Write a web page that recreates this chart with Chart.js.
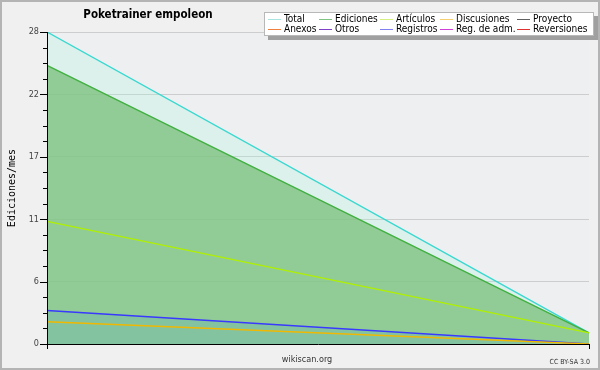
<!DOCTYPE html>
<html><head><meta charset="utf-8">
<script src="https://cdn.jsdelivr.net/npm/chart.js@4/dist/chart.umd.min.js"></script>
<style>html,body{margin:0;padding:0;background:#f0f0f0;}#wrap{width:600px;height:370px;}</style>
</head><body><div id="wrap"><canvas id="c" width="600" height="370"></canvas></div>
<script>
const periods = ['mes 1', 'mes 2'];
const total = [28, 1];
const ediciones = [25, 1];
const articulos = [11, 1];
const registros = [3, 0];
const discusiones = [2, 0];
const yMax = 28;
const majorStep = 5.6;
const minorStep = 1.4;
const legendNames = ['Total','Ediciones','Artículos','Discusiones','Proyecto','Anexos','Otros','Registros','Reg. de adm.','Reversiones'];
const legendColors = ['#a8e4e0','#80c484','#d4f080','#f4d070','#606060','#f08040','#8040c8','#8080f0','#d040d8','#e03030'];
const chartTitle = 'Poketrainer empoleon';
const yTitle = 'Ediciones/mes';

const FONT = "'DejaVu Sans Condensed','DejaVu Sans',sans-serif";

const deco = {
  id: 'deco',
  beforeDraw(chart) {
    const ctx = chart.ctx, a = chart.chartArea;
    ctx.save();
    ctx.fillStyle = '#f0f0f0';
    ctx.fillRect(0, 0, 600, 370);
    ctx.strokeStyle = '#b4b4b4';
    ctx.lineWidth = 2;
    ctx.strokeRect(1, 1, 598, 368);
    ctx.fillStyle = '#eeeff1';
    ctx.fillRect(a.left, a.top, a.right - a.left, a.bottom - a.top);
    ctx.restore();
  },
  afterDraw(chart) {
    const ctx = chart.ctx, a = chart.chartArea;
    const ys = chart.scales.y, xs = chart.scales.x;
    ctx.save();
    ctx.strokeStyle = '#000';
    ctx.lineWidth = 1;
    ctx.beginPath();
    ctx.moveTo(a.left + 0.5, a.top); ctx.lineTo(a.left + 0.5, a.bottom + 0.5);
    ctx.moveTo(a.left, a.bottom + 0.5); ctx.lineTo(a.right + 1, a.bottom + 0.5);
    ys.ticks.forEach(t => {
      const y = Math.round(ys.getPixelForValue(t.value)) + 0.5;
      const major = Math.abs(t.value / majorStep - Math.round(t.value / majorStep)) < 1e-6;
      ctx.moveTo(a.left - (major ? 7 : 4), y); ctx.lineTo(a.left, y);
    });
    periods.forEach((p, i) => {
      const x = Math.round(xs.getPixelForValue(i)) + 0.5;
      ctx.moveTo(x, a.bottom); ctx.lineTo(x, a.bottom + 5);
    });
    ctx.stroke();
    ctx.fillStyle = '#000';
    ctx.font = "bold 11.5px " + FONT;
    ctx.textAlign = 'center'; ctx.textBaseline = 'middle';
    ctx.fillText(chartTitle, 148, 15);
    ctx.font = "9px " + FONT;
    ctx.fillStyle = '#333';
    ctx.fillText('wikiscan.org', 307, 360);
    ctx.font = "7px " + FONT;
    ctx.textAlign = 'right';
    ctx.fillText('CC BY-SA 3.0', 590, 362);
    ctx.fillStyle = '#a0a0a0';
    ctx.fillRect(268, 16, 330, 24);
    ctx.fillStyle = '#ffffff';
    ctx.fillRect(264, 12, 330, 24);
    ctx.strokeStyle = '#b8b8b8';
    ctx.strokeRect(264.5, 12.5, 329, 23);
    const swX = [268, 319, 380, 440, 517];
    const rowY = [19, 29];
    ctx.font = "10px " + FONT;
    ctx.textAlign = 'left';
    legendNames.forEach((n, i) => {
      const col = i % 5, row = Math.floor(i / 5);
      const y = rowY[row];
      ctx.strokeStyle = legendColors[i];
      ctx.lineWidth = 1;
      ctx.beginPath();
      ctx.moveTo(swX[col], y + 0.5); ctx.lineTo(swX[col] + 13, y + 0.5);
      ctx.stroke();
      ctx.fillStyle = '#000';
      ctx.fillText(n, swX[col] + 16, y + 0.5);
    });
    ctx.restore();
  }
};

new Chart(document.getElementById('c'), {
  type: 'line',
  data: {
    labels: periods,
    datasets: [
      { label: 'Total', data: total, borderColor: '#38d8d0', backgroundColor: 'rgba(160,250,220,0.23)', fill: '+1', borderWidth: 1.4, order: 6 },
      { label: 'Ediciones', data: ediciones, borderColor: '#40b040', backgroundColor: 'rgba(132,198,136,0.88)', fill: 'origin', borderWidth: 1.4, order: 5 },
      { label: 'Artículos', data: articulos, borderColor: '#b0f000', fill: false, borderWidth: 1.4, order: 1 },
      { label: 'Registros', data: registros, borderColor: '#3838ff', backgroundColor: 'rgba(60,150,230,0.14)', fill: 'origin', borderWidth: 1.4, order: 3 },
      { label: 'Discusiones', data: discusiones, borderColor: '#f0b800', fill: false, borderWidth: 1.4, order: 2 }
    ]
  },
  options: {
    responsive: false,
    animation: false,
    devicePixelRatio: 1,
    elements: { point: { radius: 0 }, line: { tension: 0 } },
    layout: { padding: { left: 0, right: 11, top: 32, bottom: 0 } },
    plugins: { legend: { display: false }, tooltip: { enabled: false }, title: { display: false } },
    scales: {
      x: {
        type: 'category', offset: false,
        grid: { display: false, drawTicks: false },
        border: { display: false },
        ticks: { display: false },
        afterFit(s) { s.height = 26; }
      },
      y: {
        min: 0, max: yMax,
        afterBuildTicks(s) {
          const t = [];
          for (let i = 0; i * minorStep <= yMax + 1e-9; i++) t.push({ value: +(i * minorStep).toFixed(4) });
          s.ticks = t;
        },
        grid: {
          drawTicks: false,
          color(c) {
            const v = c.tick ? c.tick.value : 0;
            const major = Math.abs(v / majorStep - Math.round(v / majorStep)) < 1e-6;
            return (major && v > 0) ? '#cdcdcd' : 'rgba(0,0,0,0)';
          }
        },
        border: { display: false },
        ticks: {
          autoSkip: false, padding: 8, color: '#444',
          font: { family: FONT, size: 9 },
          callback(v) {
            const major = Math.abs(v / majorStep - Math.round(v / majorStep)) < 1e-6;
            return major ? String(Math.round(v)) : '';
          }
        },
        title: { display: true, text: yTitle, color: '#000', font: { family: "'DejaVu Sans Mono',monospace", size: 10 }, padding: { top: 6, bottom: 0 } },
        afterFit(s) { s.width = 47; }
      }
    }
  },
  plugins: [deco]
});
</script></body></html>
